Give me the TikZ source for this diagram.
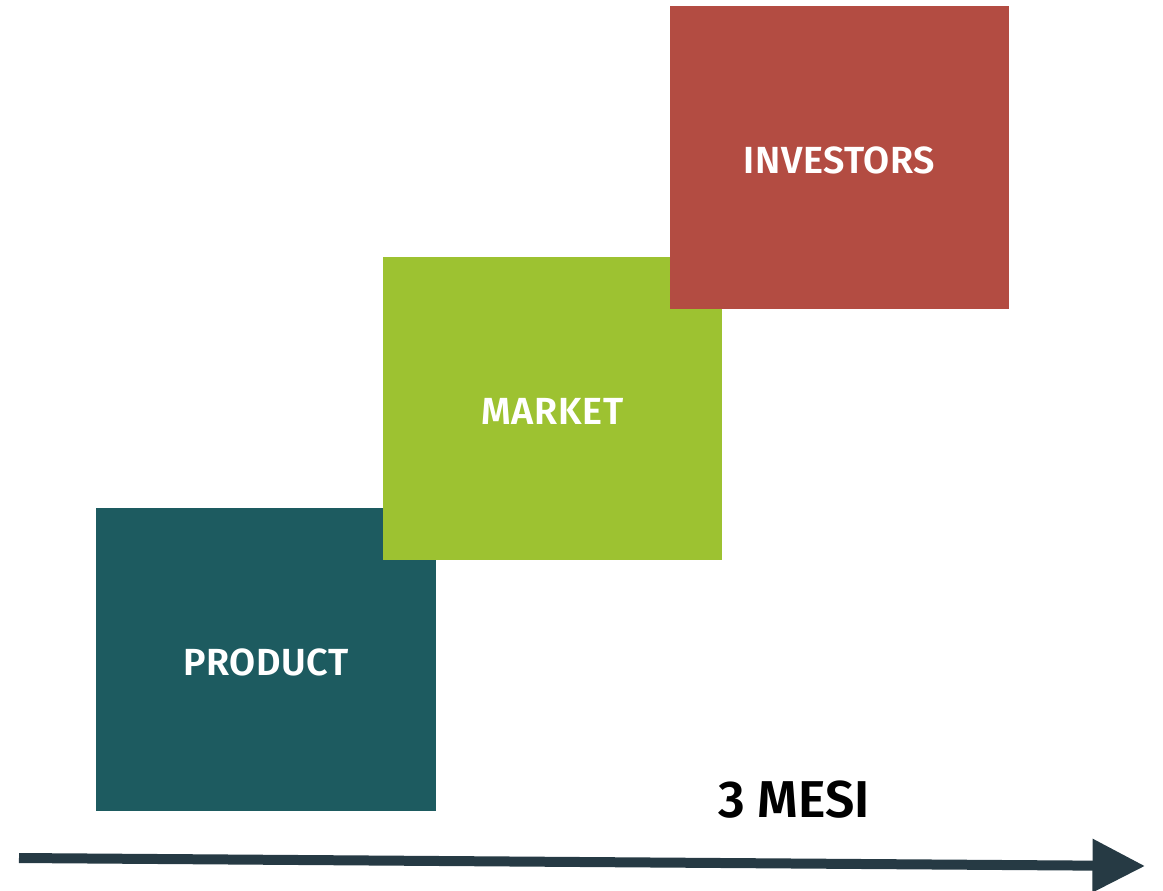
\documentclass[tikz,border=0pt]{standalone}
\usepackage{fontspec}
\setmainfont{Fira Sans}[BoldFont={Fira Sans SemiBold}]
\newfontfamily\boxfont{Fira Sans}[BoldFont={Fira Sans SemiBold}, LetterSpace=1.5]
\definecolor{prodcol}{HTML}{1D5B60}
\definecolor{markcol}{HTML}{9DC231}
\definecolor{invcol}{HTML}{B34C42}
\definecolor{arrcol}{HTML}{263A44}
\usetikzlibrary{arrows.meta}
\begin{document}
\begin{tikzpicture}[x=0.02cm,y=-0.02cm,
  stagebox/.style={rectangle, minimum width=6.8cm, minimum height=6.06cm, inner sep=0pt, text=white, text height=0.64cm, text depth=0cm, font=\boxfont\bfseries\fontsize{21.5}{25}\selectfont}]
\useasboundingbox (0,0) rectangle (1163,890);
\node[stagebox, fill=prodcol] (prod) at (266,659.5){PRODUCT};
\node[stagebox, fill=markcol] (mark) at (552.5,408.5){MARKET};
\node[stagebox, fill=invcol] (inv) at (839.5,157.5){INVESTORS};
\node[font=\bfseries\fontsize{29.5}{35}\selectfont] (mesi) at (794,800){3 MESI};
\coordinate (tstart) at (19,858);
\coordinate (tend) at (1145,866);
\draw[arrcol, line width=0.2cm, -{Triangle[length=1.05cm, width=1.02cm]}](tstart) -- (tend);
\end{tikzpicture}
\end{document}
